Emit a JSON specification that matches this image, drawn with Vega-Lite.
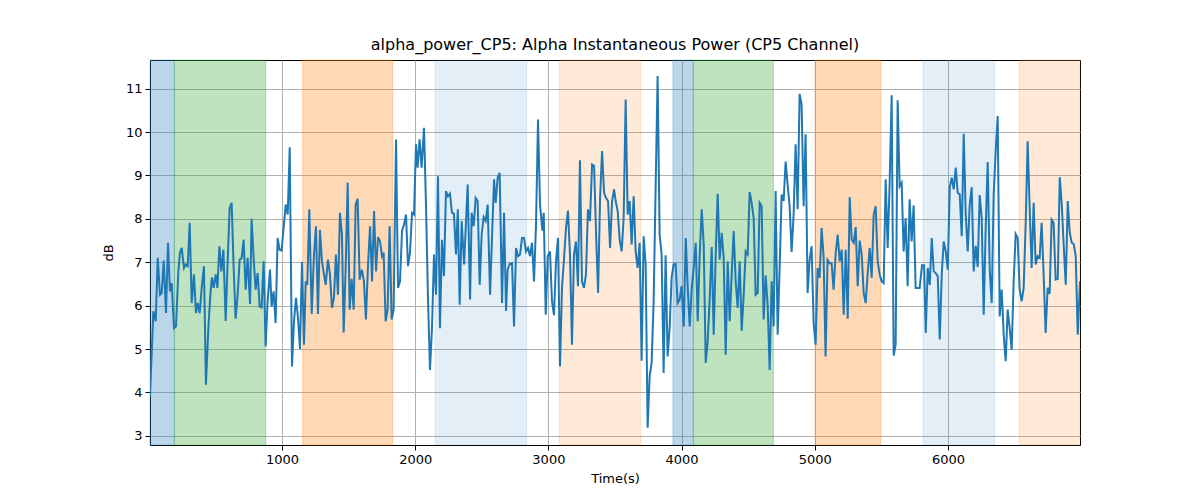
{
  "$schema": "https://vega.github.io/schema/vega-lite/v6.json",
  "width": 930,
  "height": 385,
  "autosize": {"type": "none"},
  "padding": {"left": 150, "top": 60, "right": 120, "bottom": 55},
  "background": "white",
  "title": {
    "text": "alpha_power_CP5: Alpha Instantaneous Power (CP5 Channel)",
    "font": "DejaVu Sans",
    "fontSize": 16,
    "fontWeight": "normal",
    "color": "black",
    "anchor": "middle",
    "offset": 7
  },
  "datasets": {
    "spans": [
      {"start": 9, "end": 192, "phase": "P1"},
      {"start": 192, "end": 878, "phase": "P2"},
      {"start": 1155, "end": 1831, "phase": "P3"},
      {"start": 2149, "end": 2837, "phase": "P4"},
      {"start": 3080, "end": 3693, "phase": "P5"},
      {"start": 3935, "end": 4088, "phase": "P1"},
      {"start": 4088, "end": 4689, "phase": "P2"},
      {"start": 5002, "end": 5495, "phase": "P3"},
      {"start": 5812, "end": 6351, "phase": "P4"},
      {"start": 6533, "end": 6991, "phase": "P5"}
    ],
    "series": [
      {"t":9,"db":3.91},{"t":34,"db":5.87},{"t":52,"db":5.64},{"t":67,"db":7.10},{"t":84,"db":6.25},{"t":97,"db":6.29},{"t":112,"db":7.04},{"t":129,"db":5.83},{"t":144,"db":7.45},{"t":159,"db":6.33},{"t":172,"db":6.52},{"t":189,"db":5.48},{"t":204,"db":5.52},{"t":222,"db":6.79},{"t":234,"db":7.22},{"t":247,"db":7.33},{"t":264,"db":6.87},{"t":277,"db":6.95},{"t":292,"db":6.91},{"t":307,"db":7.91},{"t":322,"db":6.06},{"t":339,"db":6.72},{"t":354,"db":5.83},{"t":367,"db":6.06},{"t":382,"db":5.83},{"t":397,"db":6.41},{"t":414,"db":6.91},{"t":429,"db":4.18},{"t":447,"db":5.48},{"t":462,"db":6.25},{"t":474,"db":6.65},{"t":487,"db":6.41},{"t":502,"db":6.72},{"t":515,"db":6.41},{"t":530,"db":7.37},{"t":545,"db":6.79},{"t":560,"db":7.29},{"t":577,"db":5.65},{"t":592,"db":7.02},{"t":607,"db":8.25},{"t":622,"db":8.37},{"t":637,"db":6.87},{"t":652,"db":5.70},{"t":667,"db":6.25},{"t":682,"db":7.06},{"t":697,"db":7.10},{"t":712,"db":7.52},{"t":727,"db":6.37},{"t":742,"db":7.10},{"t":760,"db":6.04},{"t":772,"db":8.00},{"t":787,"db":7.10},{"t":802,"db":6.37},{"t":817,"db":6.75},{"t":832,"db":5.98},{"t":847,"db":5.96},{"t":862,"db":7.02},{"t":877,"db":5.06},{"t":892,"db":6.10},{"t":910,"db":6.83},{"t":922,"db":5.98},{"t":937,"db":6.33},{"t":952,"db":5.60},{"t":967,"db":7.56},{"t":982,"db":7.29},{"t":997,"db":7.27},{"t":1012,"db":7.79},{"t":1028,"db":8.33},{"t":1043,"db":8.10},{"t":1058,"db":9.65},{"t":1075,"db":4.60},{"t":1090,"db":5.64},{"t":1105,"db":6.18},{"t":1120,"db":5.72},{"t":1135,"db":5.00},{"t":1150,"db":7.01},{"t":1165,"db":5.10},
      {"t":1178,"db":6.56},{"t":1190,"db":6.48},{"t":1205,"db":8.22},{"t":1223,"db":5.81},{"t":1240,"db":7.18},{"t":1255,"db":7.83},{"t":1270,"db":5.81},{"t":1285,"db":7.75},{"t":1300,"db":7.02},{"t":1315,"db":6.72},{"t":1328,"db":6.48},{"t":1345,"db":7.06},{"t":1360,"db":6.72},{"t":1375,"db":5.95},{"t":1390,"db":6.18},{"t":1405,"db":7.18},{"t":1420,"db":6.25},{"t":1435,"db":8.14},{"t":1450,"db":7.64},{"t":1463,"db":5.38},{"t":1478,"db":6.87},{"t":1493,"db":8.83},{"t":1508,"db":5.91},{"t":1523,"db":6.62},{"t":1538,"db":5.91},{"t":1553,"db":8.33},{"t":1568,"db":8.46},{"t":1583,"db":6.60},{"t":1600,"db":6.83},{"t":1615,"db":6.56},{"t":1630,"db":5.68},{"t":1646,"db":6.95},{"t":1661,"db":7.83},{"t":1676,"db":6.56},{"t":1691,"db":8.18},{"t":1706,"db":6.79},{"t":1721,"db":7.58},{"t":1736,"db":7.48},{"t":1751,"db":7.14},{"t":1763,"db":7.22},{"t":1778,"db":5.64},{"t":1793,"db":5.91},{"t":1808,"db":7.83},{"t":1823,"db":5.68},{"t":1838,"db":5.91},{"t":1856,"db":9.83},{"t":1871,"db":6.41},{"t":1886,"db":6.56},{"t":1901,"db":7.72},{"t":1916,"db":7.87},{"t":1931,"db":8.10},{"t":1946,"db":6.91},{"t":1961,"db":7.22},{"t":1976,"db":8.14},{"t":1991,"db":8.10},{"t":2006,"db":9.72},{"t":2018,"db":9.18},{"t":2033,"db":9.83},{"t":2048,"db":9.18},{"t":2066,"db":10.10},{"t":2081,"db":8.33},{"t":2096,"db":6.18},{"t":2111,"db":4.52},{"t":2126,"db":5.48},{"t":2141,"db":7.18},{"t":2156,"db":6.25},{"t":2171,"db":8.98},{"t":2186,"db":5.48},{"t":2201,"db":7.52},{"t":2216,"db":6.68},{"t":2231,"db":8.64},{"t":2246,"db":8.52},{"t":2261,"db":8.58},{"t":2276,"db":8.14},{"t":2291,"db":8.12},{"t":2306,"db":7.18},{"t":2320,"db":8.22},{"t":2334,"db":6.02},
      {"t":2349,"db":7.95},{"t":2367,"db":6.95},{"t":2394,"db":8.79},{"t":2412,"db":6.14},{"t":2424,"db":8.14},{"t":2439,"db":7.83},{"t":2454,"db":8.48},{"t":2469,"db":8.41},{"t":2484,"db":6.48},{"t":2499,"db":7.64},{"t":2514,"db":8.04},{"t":2529,"db":7.95},{"t":2544,"db":8.33},{"t":2562,"db":6.25},{"t":2579,"db":7.79},{"t":2592,"db":8.91},{"t":2604,"db":8.37},{"t":2619,"db":8.95},{"t":2634,"db":9.06},{"t":2652,"db":6.06},{"t":2667,"db":8.14},{"t":2682,"db":5.88},{"t":2694,"db":6.83},{"t":2709,"db":6.96},{"t":2727,"db":6.98},{"t":2742,"db":5.52},{"t":2757,"db":7.33},{"t":2772,"db":7.14},{"t":2787,"db":7.18},{"t":2802,"db":7.56},{"t":2817,"db":7.56},{"t":2832,"db":7.25},{"t":2847,"db":7.33},{"t":2862,"db":7.14},{"t":2877,"db":7.45},{"t":2892,"db":6.56},{"t":2907,"db":7.87},{"t":2922,"db":10.29},{"t":2937,"db":8.33},{"t":2955,"db":7.73},{"t":2965,"db":8.14},{"t":2980,"db":5.79},{"t":2995,"db":7.14},{"t":3012,"db":7.25},{"t":3027,"db":6.10},{"t":3042,"db":5.78},{"t":3057,"db":7.02},{"t":3072,"db":7.56},{"t":3087,"db":4.60},{"t":3102,"db":6.41},{"t":3117,"db":7.06},{"t":3132,"db":7.79},{"t":3147,"db":8.19},{"t":3162,"db":7.18},{"t":3177,"db":5.10},{"t":3192,"db":7.18},{"t":3207,"db":7.48},{"t":3222,"db":6.45},{"t":3237,"db":9.35},{"t":3252,"db":6.56},{"t":3267,"db":6.41},{"t":3282,"db":6.72},{"t":3297,"db":8.22},{"t":3312,"db":7.95},{"t":3328,"db":9.25},{"t":3343,"db":9.22},{"t":3358,"db":7.64},{"t":3373,"db":6.29},{"t":3388,"db":8.48},{"t":3403,"db":9.56},{"t":3418,"db":8.60},{"t":3433,"db":8.48},{"t":3448,"db":8.41},{"t":3463,"db":7.33},{"t":3478,"db":8.41},{"t":3493,"db":8.68},
      {"t":3505,"db":8.41},{"t":3520,"db":8.18},{"t":3535,"db":7.52},{"t":3550,"db":7.25},{"t":3565,"db":8.02},{"t":3580,"db":10.75},{"t":3595,"db":8.10},{"t":3610,"db":8.41},{"t":3625,"db":7.41},{"t":3640,"db":8.52},{"t":3655,"db":7.25},{"t":3670,"db":6.87},{"t":3685,"db":7.45},{"t":3700,"db":4.73},{"t":3715,"db":7.60},{"t":3730,"db":6.95},{"t":3745,"db":3.19},{"t":3760,"db":4.37},{"t":3775,"db":4.68},{"t":3790,"db":6.10},{"t":3805,"db":8.72},{"t":3820,"db":11.29},{"t":3835,"db":7.64},{"t":3850,"db":7.18},{"t":3865,"db":4.45},{"t":3880,"db":7.16},{"t":3895,"db":4.83},{"t":3910,"db":5.48},{"t":3925,"db":6.64},{"t":3940,"db":6.95},{"t":3955,"db":6.96},{"t":3970,"db":6.06},{"t":3985,"db":6.14},{"t":4000,"db":6.45},{"t":4016,"db":5.52},{"t":4031,"db":7.56},{"t":4046,"db":6.41},{"t":4061,"db":5.52},{"t":4076,"db":6.41},{"t":4091,"db":6.87},{"t":4106,"db":7.45},{"t":4121,"db":5.64},{"t":4136,"db":7.18},{"t":4151,"db":8.22},{"t":4166,"db":7.41},{"t":4181,"db":4.68},{"t":4196,"db":5.19},{"t":4211,"db":6.18},{"t":4226,"db":7.35},{"t":4241,"db":5.33},{"t":4256,"db":7.18},{"t":4271,"db":8.58},{"t":4286,"db":7.06},{"t":4301,"db":7.68},{"t":4316,"db":7.10},{"t":4331,"db":4.87},{"t":4346,"db":7.02},{"t":4361,"db":5.64},{"t":4376,"db":6.72},{"t":4391,"db":7.72},{"t":4406,"db":6.56},{"t":4421,"db":5.95},{"t":4436,"db":7.02},{"t":4451,"db":5.42},{"t":4466,"db":6.25},{"t":4481,"db":7.25},{"t":4496,"db":7.18},{"t":4511,"db":8.62},{"t":4526,"db":8.37},{"t":4541,"db":8.02},{"t":4556,"db":6.25},{"t":4571,"db":6.29},{"t":4586,"db":8.37},{"t":4601,"db":8.29},{"t":4616,"db":5.68},{"t":4631,"db":6.70},{"t":4646,"db":6.02},{"t":4661,"db":4.52},
      {"t":4676,"db":6.56},{"t":4691,"db":5.52},{"t":4706,"db":8.64},{"t":4721,"db":5.33},{"t":4736,"db":6.87},{"t":4751,"db":8.56},{"t":4766,"db":8.41},{"t":4781,"db":9.32},{"t":4796,"db":8.79},{"t":4811,"db":8.29},{"t":4826,"db":7.24},{"t":4841,"db":8.10},{"t":4856,"db":9.72},{"t":4871,"db":8.22},{"t":4886,"db":10.88},{"t":4901,"db":10.64},{"t":4916,"db":8.29},{"t":4931,"db":9.95},{"t":4946,"db":6.29},{"t":4961,"db":7.06},{"t":4976,"db":7.37},{"t":4991,"db":5.60},{"t":5006,"db":5.10},{"t":5021,"db":6.87},{"t":5036,"db":6.64},{"t":5051,"db":7.79},{"t":5066,"db":7.14},{"t":5081,"db":4.83},{"t":5096,"db":7.05},{"t":5111,"db":6.98},{"t":5126,"db":6.98},{"t":5141,"db":6.37},{"t":5157,"db":7.22},{"t":5172,"db":7.64},{"t":5187,"db":7.02},{"t":5202,"db":7.29},{"t":5217,"db":5.79},{"t":5232,"db":7.29},{"t":5247,"db":5.70},{"t":5262,"db":8.50},{"t":5277,"db":7.52},{"t":5292,"db":7.45},{"t":5307,"db":7.81},{"t":5322,"db":6.45},{"t":5337,"db":7.50},{"t":5352,"db":7.18},{"t":5367,"db":6.29},{"t":5382,"db":6.06},{"t":5397,"db":6.75},{"t":5412,"db":7.33},{"t":5427,"db":6.64},{"t":5442,"db":8.10},{"t":5457,"db":8.29},{"t":5472,"db":7.02},{"t":5487,"db":6.72},{"t":5502,"db":6.56},{"t":5517,"db":6.52},{"t":5532,"db":8.91},{"t":5547,"db":7.33},{"t":5562,"db":8.83},{"t":5577,"db":10.85},{"t":5592,"db":4.85},{"t":5607,"db":5.10},{"t":5622,"db":10.73},{"t":5637,"db":8.75},{"t":5652,"db":8.83},{"t":5667,"db":7.25},{"t":5682,"db":8.02},{"t":5697,"db":6.45},{"t":5712,"db":8.45},{"t":5727,"db":7.48},{"t":5742,"db":8.31},{"t":5757,"db":6.41},{"t":5772,"db":6.41},{"t":5787,"db":6.41},
      {"t":5805,"db":6.93},{"t":5820,"db":6.93},{"t":5833,"db":5.37},{"t":5848,"db":6.87},{"t":5863,"db":6.48},{"t":5878,"db":7.56},{"t":5893,"db":6.79},{"t":5908,"db":6.75},{"t":5923,"db":6.68},{"t":5938,"db":5.22},{"t":5953,"db":6.72},{"t":5968,"db":7.48},{"t":5983,"db":7.25},{"t":5998,"db":6.83},{"t":6013,"db":8.72},{"t":6028,"db":8.95},{"t":6043,"db":8.68},{"t":6058,"db":9.18},{"t":6073,"db":8.60},{"t":6088,"db":8.56},{"t":6103,"db":7.60},{"t":6118,"db":9.96},{"t":6133,"db":8.10},{"t":6148,"db":7.25},{"t":6163,"db":8.33},{"t":6178,"db":8.73},{"t":6193,"db":6.79},{"t":6208,"db":7.38},{"t":6223,"db":6.89},{"t":6238,"db":8.55},{"t":6253,"db":8.02},{"t":6268,"db":5.79},{"t":6283,"db":7.79},{"t":6298,"db":9.31},{"t":6313,"db":6.83},{"t":6328,"db":6.06},{"t":6343,"db":8.56},{"t":6358,"db":9.56},{"t":6373,"db":10.37},{"t":6388,"db":5.75},{"t":6403,"db":6.37},{"t":6418,"db":5.33},{"t":6433,"db":4.72},{"t":6448,"db":5.91},{"t":6463,"db":5.48},{"t":6478,"db":4.98},{"t":6493,"db":6.56},{"t":6508,"db":7.65},{"t":6523,"db":7.56},{"t":6538,"db":6.37},{"t":6553,"db":6.10},{"t":6568,"db":6.41},{"t":6583,"db":7.87},{"t":6598,"db":9.79},{"t":6613,"db":8.25},{"t":6628,"db":6.87},{"t":6643,"db":8.37},{"t":6658,"db":6.95},{"t":6673,"db":7.14},{"t":6688,"db":7.10},{"t":6703,"db":7.91},{"t":6718,"db":6.72},{"t":6733,"db":5.37},{"t":6748,"db":6.41},{"t":6763,"db":6.27},{"t":6778,"db":7.98},{"t":6793,"db":7.91},{"t":6808,"db":6.60},{"t":6824,"db":6.62},{"t":6839,"db":8.96},{"t":6854,"db":8.33},{"t":6869,"db":7.37},{"t":6884,"db":6.48},{"t":6899,"db":8.41},{"t":6914,"db":7.68},{"t":6929,"db":7.45},{"t":6944,"db":7.42},{"t":6959,"db":7.14},{"t":6974,"db":5.33},{"t":6991,"db":6.56}
    ]
  },
  "layer": [
    {
      "data": {"name": "spans"},
      "mark": {"type": "rect", "strokeWidth": 1},
      "encoding": {
        "x": {
          "field": "start",
          "type": "quantitative",
          "scale": {"domain": [9, 6991], "nice": false, "zero": false},
          "axis": {
            "title": "Time(s)",
            "values": [1000, 2000, 3000, 4000, 5000, 6000],
            "format": "d",
            "titlePadding": 6
          }
        },
        "x2": {"field": "end"},
        "fill": {
          "field": "phase",
          "type": "nominal",
          "legend": null,
          "scale": {
            "domain": ["P1", "P2", "P3", "P4", "P5"],
            "range": [
              "rgba(31,119,180,0.3)",
              "rgba(44,160,44,0.3)",
              "rgba(255,127,14,0.3)",
              "rgba(31,119,180,0.12)",
              "rgba(255,127,14,0.16)"
            ]
          }
        },
        "stroke": {
          "field": "phase",
          "type": "nominal",
          "legend": null,
          "scale": {
            "domain": ["P1", "P2", "P3", "P4", "P5"],
            "range": [
              "rgba(31,119,180,0.3)",
              "rgba(44,160,44,0.3)",
              "rgba(255,127,14,0.3)",
              "rgba(31,119,180,0.12)",
              "rgba(255,127,14,0.16)"
            ]
          }
        }
      }
    },
    {
      "data": {"name": "series"},
      "mark": {"type": "line", "color": "#1f77b4", "strokeWidth": 2, "clip": true},
      "encoding": {
        "x": {"field": "t", "type": "quantitative"},
        "y": {
          "field": "db",
          "type": "quantitative",
          "scale": {"domain": [2.79, 11.66], "nice": false, "zero": false},
          "axis": {
            "title": "dB",
            "values": [3, 4, 5, 6, 7, 8, 9, 10, 11],
            "titlePadding": 10
          }
        }
      }
    }
  ],
  "config": {
    "view": {"stroke": "black", "strokeWidth": 1},
    "axis": {
      "labelFont": "DejaVu Sans",
      "labelFontSize": 13,
      "labelColor": "black",
      "titleFont": "DejaVu Sans",
      "titleFontSize": 13,
      "titleFontWeight": "normal",
      "titleColor": "black",
      "gridColor": "#b0b0b0",
      "gridWidth": 1,
      "gridOpacity": 1,
      "domain": false,
      "tickColor": "black",
      "tickSize": 5,
      "labelPadding": 3
    }
  }
}
